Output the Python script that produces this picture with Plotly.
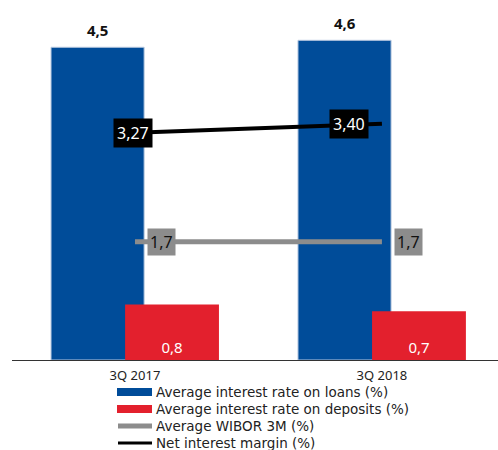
import plotly.graph_objects as go

# Quarterly interest-rate figures
periods = ["3Q 2017", "3Q 2018"]
loans_rate = [4.5, 4.6]
deposits_rate = [0.8, 0.7]
wibor_3m = [1.7, 1.7]
net_margin = [3.27, 3.40]

names = [
    "Average interest rate on loans (%)",
    "Average interest rate on deposits (%)",
    "Average WIBOR 3M (%)",
    "Net interest margin (%)",
]

BLUE = "#004C99"
RED = "#E3202D"
GREY = "#8C8C8C"
BLACK = "#000000"
FONT = "Noto Sans"
LEG_FONT = "DejaVu Sans"

W, H = 498, 450
ML, MR, MT, MB = 12, 0, 0, 90
PW, PH = W - ML - MR, H - MT - MB

x = list(range(len(periods)))

LOAN_W, LOAN_OFF = 0.377, -0.34
DEP_W, DEP_OFF = 0.38, -0.04

fig = go.Figure()

fig.add_trace(go.Bar(
    x=x, y=loans_rate, width=LOAN_W, offset=LOAN_OFF,
    marker=dict(color=BLUE, line=dict(color="#b8c9e0", width=1)),
    showlegend=False, hoverinfo="skip",
))
fig.add_trace(go.Bar(
    x=x, y=deposits_rate, width=DEP_W, offset=DEP_OFF,
    marker=dict(color=RED, line=dict(width=0)),
    text=deposits_rate, texttemplate="%{y:.1f}", textposition="inside",
    insidetextanchor="start", textangle=0,
    textfont=dict(color="white", size=15, family=FONT),
    showlegend=False, hoverinfo="skip",
))
fig.add_trace(go.Scatter(
    x=x, y=wibor_3m, mode="lines",
    line=dict(color=GREY, width=5), showlegend=False, hoverinfo="skip",
))
fig.add_trace(go.Scatter(
    x=x, y=net_margin, mode="lines",
    line=dict(color=BLACK, width=4), showlegend=False, hoverinfo="skip",
))


def fmt(v, nd):
    return f"{v:.{nd}f}".replace(".", ",")


# Values above the loan bars
for i, v in enumerate(loans_rate):
    fig.add_annotation(
        x=x[i] + LOAN_OFF + LOAN_W / 2, y=v, text=f"<b>{fmt(v, 1)}</b>",
        showarrow=False, yanchor="bottom", yshift=5,
        font=dict(color="#111111", size=15, family=FONT),
    )

# Value boxes for the line series
nim_shift = [-2, -33]
for i, v in enumerate(net_margin):
    fig.add_annotation(
        x=x[i], y=v, text=fmt(v, 2), showarrow=False, xshift=nim_shift[i],
        font=dict(color="white", size=16, family=FONT),
        bgcolor=BLACK, borderpad=3,
    )
for i, v in enumerate(wibor_3m):
    fig.add_annotation(
        x=x[i], y=v, text=fmt(v, 1), showarrow=False, xshift=27,
        font=dict(color="#111111", size=16, family=FONT),
        bgcolor=GREY, borderpad=2,
    )


# Legend drawn below the axis
def px_x(p):
    return (p - ML) / PW


def px_y(p):
    return (H - MB - p) / PH


leg_rows = [392, 409, 426, 443]
leg_kind = [("rect", BLUE), ("rect", RED), ("line", GREY), ("line", BLACK)]
leg_width = {GREY: 5, BLACK: 3}
for name, yc, (kind, col) in zip(names, leg_rows, leg_kind):
    if kind == "rect":
        fig.add_shape(
            type="rect", xref="paper", yref="paper",
            x0=px_x(117), x1=px_x(152), y0=px_y(yc - 4), y1=px_y(yc + 4),
            fillcolor=col, line=dict(width=0),
        )
    else:
        fig.add_shape(
            type="line", xref="paper", yref="paper",
            x0=px_x(118), x1=px_x(152), y0=px_y(yc), y1=px_y(yc),
            line=dict(color=col, width=leg_width[col]),
        )
    fig.add_annotation(
        xref="paper", yref="paper", x=px_x(154), y=px_y(yc),
        xanchor="left", yanchor="middle", text=name, showarrow=False,
        font=dict(size=13.5, family=LEG_FONT, color="#222222"),
    )

fig.update_layout(
    width=W, height=H,
    margin=dict(l=ML, r=MR, t=MT, b=MB, autoexpand=False),
    paper_bgcolor="white", plot_bgcolor="white",
    barmode="overlay", separators=", ", showlegend=False,
    font=dict(family=FONT, color="#222222"),
)
fig.update_xaxes(
    tickmode="array", tickvals=x, ticktext=periods,
    range=[-0.498, 1.47], showgrid=False, zeroline=False,
    showline=True, linecolor="#333333", linewidth=1,
    ticks="", ticklabelstandoff=3,
    tickfont=dict(size=13, family=FONT, color="#222222"),
)
fig.update_yaxes(
    range=[0, 5.18], visible=False, showgrid=False, zeroline=False,
)

fig.write_html("out.html")
